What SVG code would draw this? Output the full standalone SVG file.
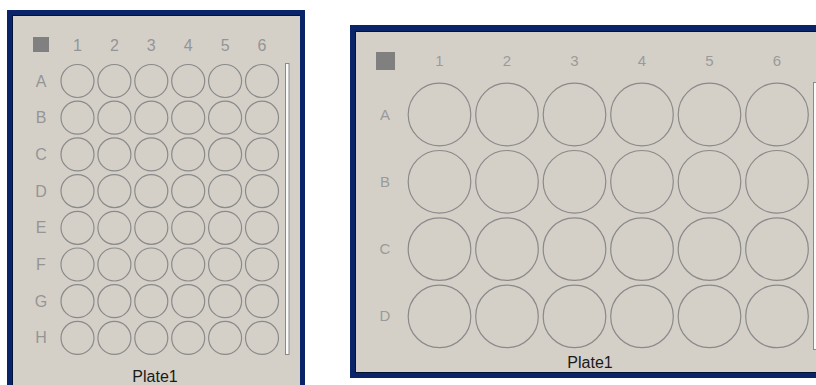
<svg xmlns="http://www.w3.org/2000/svg" width="816" height="385" viewBox="0 0 816 385">
<style>
.frame{fill:#0a246a}
.face{fill:#d4d0c8}
.sq{fill:#808080}
.well{fill:none;stroke:#8a8a8a;stroke-width:1.2}
.lbl{font-family:"Liberation Sans",Arial,sans-serif;font-size:16px;fill:#959595;text-anchor:middle}
.lbl2{font-family:"Liberation Sans",Arial,sans-serif;font-size:15px;fill:#9a9a9a;text-anchor:middle}
.name{font-family:"Liberation Sans",Arial,sans-serif;font-size:16px;fill:#1a1a1a;text-anchor:middle}
.sb{fill:#fbfbfb;stroke:#8a8a8a;stroke-width:1}
</style>
<rect width="816" height="385" fill="#ffffff"/>
<g id="plate48">
<rect class="frame" x="7" y="10" width="298" height="390"/>
<rect x="12" y="15" width="288" height="385" fill="#000000" opacity="0.5"/>
<rect class="face" x="13" y="16" width="287" height="384"/>
<rect class="sq" x="33" y="37" width="16" height="15"/>
<g class="lbl">
<text x="77.5" y="51">1</text><text x="114.4" y="51">2</text><text x="151.3" y="51">3</text><text x="188.2" y="51">4</text><text x="225.1" y="51">5</text><text x="262" y="51">6</text>
<text x="41" y="86.5">A</text><text x="41" y="123.2">B</text><text x="41" y="159.9">C</text><text x="41" y="196.6">D</text><text x="41" y="233.3">E</text><text x="41" y="270">F</text><text x="41" y="306.7">G</text><text x="41" y="343.4">H</text>
</g>
<g class="well">
<circle cx="77.5" cy="81" r="16.5"/><circle cx="114.4" cy="81" r="16.5"/><circle cx="151.3" cy="81" r="16.5"/><circle cx="188.2" cy="81" r="16.5"/><circle cx="225.1" cy="81" r="16.5"/><circle cx="262" cy="81" r="16.5"/>
<circle cx="77.5" cy="117.7" r="16.5"/><circle cx="114.4" cy="117.7" r="16.5"/><circle cx="151.3" cy="117.7" r="16.5"/><circle cx="188.2" cy="117.7" r="16.5"/><circle cx="225.1" cy="117.7" r="16.5"/><circle cx="262" cy="117.7" r="16.5"/>
<circle cx="77.5" cy="154.4" r="16.5"/><circle cx="114.4" cy="154.4" r="16.5"/><circle cx="151.3" cy="154.4" r="16.5"/><circle cx="188.2" cy="154.4" r="16.5"/><circle cx="225.1" cy="154.4" r="16.5"/><circle cx="262" cy="154.4" r="16.5"/>
<circle cx="77.5" cy="191.1" r="16.5"/><circle cx="114.4" cy="191.1" r="16.5"/><circle cx="151.3" cy="191.1" r="16.5"/><circle cx="188.2" cy="191.1" r="16.5"/><circle cx="225.1" cy="191.1" r="16.5"/><circle cx="262" cy="191.1" r="16.5"/>
<circle cx="77.5" cy="227.8" r="16.5"/><circle cx="114.4" cy="227.8" r="16.5"/><circle cx="151.3" cy="227.8" r="16.5"/><circle cx="188.2" cy="227.8" r="16.5"/><circle cx="225.1" cy="227.8" r="16.5"/><circle cx="262" cy="227.8" r="16.5"/>
<circle cx="77.5" cy="264.5" r="16.5"/><circle cx="114.4" cy="264.5" r="16.5"/><circle cx="151.3" cy="264.5" r="16.5"/><circle cx="188.2" cy="264.5" r="16.5"/><circle cx="225.1" cy="264.5" r="16.5"/><circle cx="262" cy="264.5" r="16.5"/>
<circle cx="77.5" cy="301.2" r="16.5"/><circle cx="114.4" cy="301.2" r="16.5"/><circle cx="151.3" cy="301.2" r="16.5"/><circle cx="188.2" cy="301.2" r="16.5"/><circle cx="225.1" cy="301.2" r="16.5"/><circle cx="262" cy="301.2" r="16.5"/>
<circle cx="77.5" cy="337.9" r="16.5"/><circle cx="114.4" cy="337.9" r="16.5"/><circle cx="151.3" cy="337.9" r="16.5"/><circle cx="188.2" cy="337.9" r="16.5"/><circle cx="225.1" cy="337.9" r="16.5"/><circle cx="262" cy="337.9" r="16.5"/>
</g>
<rect class="sb" x="285.5" y="63.5" width="3.5" height="291"/>
<text class="name" x="155" y="382">Plate1</text>
</g>
<g id="plate24">
<rect class="frame" x="350" y="25" width="480" height="353"/>
<rect x="355" y="31" width="475" height="342" fill="#000000" opacity="0.5"/>
<rect class="face" x="356" y="32" width="474" height="340"/>
<rect class="sq" x="376" y="52" width="19" height="18"/>
<g class="lbl2">
<text x="439.5" y="65.5">1</text><text x="507" y="65.5">2</text><text x="574.5" y="65.5">3</text><text x="642" y="65.5">4</text><text x="709.5" y="65.5">5</text><text x="777" y="65.5">6</text>
<text x="385" y="119.5">A</text><text x="385" y="186.8">B</text><text x="385" y="254.1">C</text><text x="385" y="321.4">D</text>
</g>
<g class="well">
<circle cx="439.5" cy="114.5" r="31.3"/><circle cx="507" cy="114.5" r="31.3"/><circle cx="574.5" cy="114.5" r="31.3"/><circle cx="642" cy="114.5" r="31.3"/><circle cx="709.5" cy="114.5" r="31.3"/><circle cx="777" cy="114.5" r="31.3"/>
<circle cx="439.5" cy="181.8" r="31.3"/><circle cx="507" cy="181.8" r="31.3"/><circle cx="574.5" cy="181.8" r="31.3"/><circle cx="642" cy="181.8" r="31.3"/><circle cx="709.5" cy="181.8" r="31.3"/><circle cx="777" cy="181.8" r="31.3"/>
<circle cx="439.5" cy="249.1" r="31.3"/><circle cx="507" cy="249.1" r="31.3"/><circle cx="574.5" cy="249.1" r="31.3"/><circle cx="642" cy="249.1" r="31.3"/><circle cx="709.5" cy="249.1" r="31.3"/><circle cx="777" cy="249.1" r="31.3"/>
<circle cx="439.5" cy="316.4" r="31.3"/><circle cx="507" cy="316.4" r="31.3"/><circle cx="574.5" cy="316.4" r="31.3"/><circle cx="642" cy="316.4" r="31.3"/><circle cx="709.5" cy="316.4" r="31.3"/><circle cx="777" cy="316.4" r="31.3"/>
</g>
<rect class="sb" x="813.5" y="82.5" width="8" height="267"/>
<text class="name" x="590" y="367.5">Plate1</text>
</g>
</svg>
